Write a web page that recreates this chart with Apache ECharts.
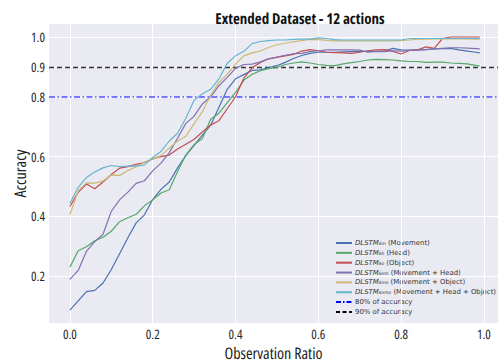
<!DOCTYPE html>
<html>
<head>
<meta charset="utf-8">
<script src="https://cdn.jsdelivr.net/npm/echarts@6/dist/echarts.min.js"></script>
<style>html,body{margin:0;padding:0;background:#fff}#c{width:498px;height:362px}
#c text[style*="Open Sans"], #c text[font-family*="Open Sans"] { font-stretch: 75% !important; }
#c text { text-rendering: geometricPrecision; }
</style>
</head>
<body>
<div id="c"></div>
<script>
const obsRatio = [0.00,0.02,0.04,0.06,0.08,0.10,0.12,0.14,0.16,0.18,0.20,0.22,0.24,0.26,0.28,0.30,0.32,0.34,0.36,0.38,0.40,0.42,0.44,0.46,0.48,0.50,0.52,0.54,0.56,0.58,0.60,0.62,0.64,0.66,0.68,0.70,0.72,0.74,0.76,0.78,0.80,0.82,0.84,0.86,0.88,0.90,0.92,0.94,0.96,0.98,0.99];
const accMovement = [0.086,0.117,0.148,0.152,0.177,0.222,0.275,0.328,0.378,0.405,0.456,0.490,0.515,0.562,0.603,0.637,0.672,0.705,0.765,0.825,0.860,0.874,0.888,0.890,0.898,0.904,0.915,0.928,0.938,0.945,0.949,0.949,0.949,0.950,0.951,0.952,0.952,0.952,0.953,0.962,0.957,0.956,0.957,0.958,0.960,0.961,0.962,0.957,0.953,0.949,0.947];
const accHead = [0.230,0.285,0.298,0.318,0.330,0.350,0.382,0.395,0.407,0.435,0.455,0.478,0.489,0.550,0.605,0.640,0.660,0.725,0.745,0.780,0.815,0.855,0.875,0.887,0.894,0.898,0.908,0.913,0.917,0.913,0.908,0.905,0.904,0.910,0.914,0.918,0.923,0.925,0.924,0.923,0.920,0.918,0.918,0.915,0.916,0.916,0.913,0.912,0.910,0.905,0.903];
const accObject = [0.433,0.480,0.508,0.492,0.515,0.540,0.561,0.566,0.574,0.580,0.592,0.600,0.605,0.625,0.641,0.658,0.682,0.706,0.720,0.760,0.800,0.862,0.897,0.915,0.927,0.932,0.937,0.942,0.953,0.958,0.954,0.949,0.948,0.947,0.945,0.949,0.954,0.957,0.958,0.952,0.943,0.955,0.957,0.967,0.962,0.995,1.000,1.000,1.000,1.000,1.000];
const accMoveHead = [0.189,0.219,0.283,0.315,0.340,0.417,0.455,0.481,0.510,0.519,0.552,0.578,0.613,0.661,0.711,0.735,0.776,0.800,0.837,0.865,0.895,0.908,0.909,0.917,0.927,0.933,0.939,0.944,0.945,0.951,0.954,0.957,0.957,0.957,0.957,0.956,0.949,0.952,0.951,0.954,0.953,0.955,0.957,0.958,0.960,0.962,0.964,0.964,0.963,0.961,0.960];
const accMoveObject = [0.406,0.485,0.512,0.511,0.518,0.538,0.537,0.553,0.566,0.581,0.592,0.603,0.628,0.652,0.668,0.710,0.750,0.805,0.848,0.875,0.910,0.937,0.947,0.953,0.965,0.974,0.979,0.984,0.988,0.992,0.991,0.989,0.987,0.987,0.987,0.987,0.987,0.987,0.987,0.987,0.988,0.990,0.993,0.993,0.994,0.994,0.994,0.994,0.994,0.993,0.993];
const accAll = [0.444,0.497,0.530,0.548,0.562,0.570,0.566,0.568,0.568,0.572,0.597,0.617,0.652,0.678,0.728,0.788,0.810,0.825,0.860,0.912,0.937,0.952,0.978,0.985,0.988,0.990,0.990,0.992,0.993,0.993,0.997,0.995,0.991,0.990,0.990,0.990,0.990,0.990,0.990,0.990,0.990,0.995,0.995,0.995,0.995,0.995,0.995,0.995,0.995,0.995,0.995];
const xTicks = [0.0,0.2,0.4,0.6,0.8,1.0];
const yTicks = [0.2,0.4,0.6,0.8,0.9,1.0];
const refLevels = [0.8,0.9];

const seriesDefs = [
  {name:'m', sub:'6m', desc:' (Movement)', data:accMovement, color:'#4C72B0'},
  {name:'h', sub:'6h', desc:' (Head)', data:accHead, color:'#55A868'},
  {name:'o', sub:'6o', desc:' (Object)', data:accObject, color:'#C44E52'},
  {name:'mh', sub:'6mh', desc:' (Movement + Head)', data:accMoveHead, color:'#8172B2'},
  {name:'mo', sub:'6mo', desc:' (Movement + Object)', data:accMoveObject, color:'#CCB974'},
  {name:'mho', sub:'6mho', desc:' (Movement + Head + Object)', data:accAll, color:'#64B5CD'}
];
const COND = 'Open Sans';
const FONT = 'DejaVu Sans';
const labelMap = {};
seriesDefs.forEach(s => labelMap[s.name] = '{i|DLSTM}{s|' + s.sub + '}{t|' + s.desc + '}');
labelMap['r80'] = '{t|80% of accuracy}';
labelMap['r90'] = '{t|90% of accuracy}';

const series = seriesDefs.map(s => ({
  name: s.name, type: 'line', showSymbol: false, symbol: 'none',
  data: obsRatio.map((x, i) => [x, s.data[i]]),
  lineStyle: {color: s.color, width: 1.2}, itemStyle: {color: s.color},
  z: 5, animation: false
}));
series.push({
  name: 'grid', type: 'line', data: [], silent: true, z: 1, animation: false,
  markLine: {
    silent: true, symbol: 'none', label: {show: false}, animation: false,
    lineStyle: {color: '#ffffff', width: 1, type: 'solid'},
    data: xTicks.map(v => ({xAxis: v})).concat(yTicks.map(v => ({yAxis: v})))
  }
});
series.push({
  name: 'r80', type: 'line', data: [], z: 4, animation: false, symbol: 'none',
  lineStyle: {color: '#0000ff', width: 1.5, type: [5, 2, 1.5, 2]}, itemStyle: {color: '#0000ff'},
  markLine: {silent: true, symbol: 'none', label: {show: false}, animation: false,
    lineStyle: {color: '#5050ff', width: 1.5, type: [6, 2.5, 1.5, 2.5]},
    data: [{yAxis: refLevels[0]}]}
});
series.push({
  name: 'r90', type: 'line', data: [], z: 4, animation: false, symbol: 'none',
  lineStyle: {color: '#000', width: 1.5, type: [4, 2.5]}, itemStyle: {color: '#000'},
  markLine: {silent: true, symbol: 'none', label: {show: false}, animation: false,
    lineStyle: {color: '#333', width: 1.4, type: [5, 3]},
    data: [{yAxis: refLevels[1]}]}
});

const chart = echarts.init(document.getElementById('c'), null, {renderer: 'svg'});
chart.setOption({
  animation: false,
  backgroundColor: '#ffffff',
  title: {
    text: 'Extended Dataset - 12 actions', left: 295, top: 6, textAlign: 'center',
    textStyle: {fontFamily: COND, fontSize: 15, fontWeight: 'bold', color: '#111'}
  },
  grid: {left: 49, right: 0, top: 24, bottom: 39, show: true, backgroundColor: '#EAEAF2', borderWidth: 0,
    containLabel: false, outerBoundsMode: 'none'},
  xAxis: {
    type: 'value', min: -0.0505, max: 1.034,
    name: 'Observation Ratio', nameLocation: 'middle', nameGap: 22, nameMoveOverlap: false,
    nameTextStyle: {fontFamily: COND, fontSize: 16, color: '#222'},
    axisLine: {show: false}, axisTick: {show: false}, splitLine: {show: false},
    axisLabel: {customValues: xTicks, fontFamily: COND, fontSize: 13, color: '#262626', margin: 4,
      formatter: v => v.toFixed(1)}
  },
  yAxis: {
    type: 'value', min: 0.043, max: 1.0435,
    name: 'Accuracy', nameLocation: 'middle', nameGap: 21, nameRotate: 90, nameMoveOverlap: false,
    nameTextStyle: {fontFamily: COND, fontSize: 16, color: '#222'},
    axisLine: {show: false}, axisTick: {show: false}, splitLine: {show: false},
    axisLabel: {customValues: yTicks, fontFamily: COND, fontSize: 13, color: '#262626', margin: 4,
      formatter: v => v.toFixed(1)}
  },
  legend: {
    orient: 'vertical', left: 335, top: 239, itemWidth: 16, itemHeight: 8, itemGap: 1.85,
    padding: 0, itemStyle: {opacity: 0},
    data: seriesDefs.map(s => s.name).concat(['r80', 'r90']),
    formatter: n => labelMap[n],
    textStyle: {
      fontFamily: FONT, fontSize: 6.9, color: '#333', lineHeight: 8, padding: [0, 0, 0, -2],
      rich: {
        i: {fontFamily: FONT, fontSize: 6.9, fontStyle: 'italic', color: '#333'},
        s: {fontFamily: FONT, fontSize: 4.4, fontStyle: 'italic', color: '#333', padding: [3, 0, 0, 0]},
        t: {fontFamily: FONT, fontSize: 6.9, color: '#333'}
      }
    }
  },
  series: series
});
</script>
</body>
</html>
